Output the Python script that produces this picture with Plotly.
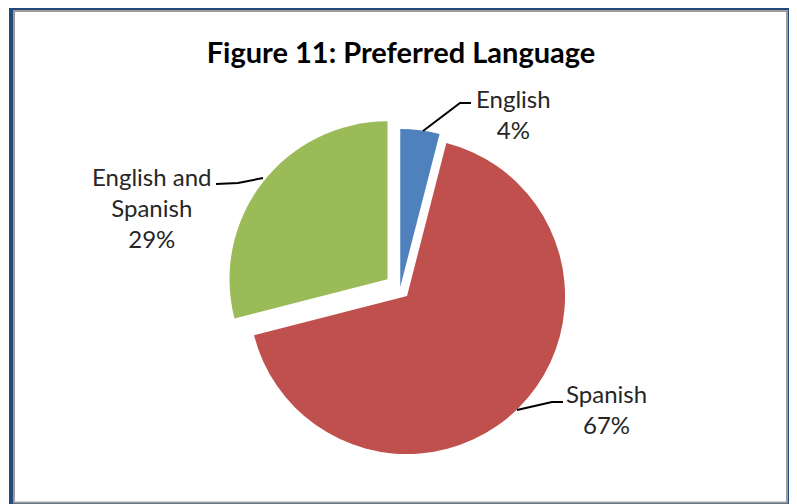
import plotly.graph_objects as go

# ---- data ----
categories = ["English", "Spanish", "English and Spanish"]
shares = [4, 67, 29]
label_lines = [["English", "4%"], ["Spanish", "67%"], ["English and", "Spanish", "29%"]]
colors = ["#4F81BD", "#C0504D", "#9BBB59"]
pulls = [0.013, 0.063, 0.10]
title_text = "Figure 11: Preferred Language"

W, H = 797, 504
OX, OY = 8, 8  # page body margin offset
FONT = "Lato"


def px(x):
    return (x - OX) / W


def py(y):
    return 1 - (y - OY) / H


# pie geometry: center (400, 289), radius ~158 px (page coordinates)
r = 158
maxpull = max(pulls)
half = r * (1 + maxpull)
cx, cy = 400, 289

fig = go.Figure(go.Pie(
    labels=categories,
    values=shares,
    sort=False,
    direction="clockwise",
    rotation=0,
    pull=pulls,
    marker=dict(colors=colors, line=dict(width=0)),
    textinfo="none",
    hoverinfo="label+percent",
    showlegend=False,
    domain=dict(x=[px(cx - half - 60), px(cx + half + 60)],
                y=[py(cy + half), py(cy - half)]),
))

shapes = []
# chart border: dark blue frame, thin gray inner line
shapes.append(dict(type="rect", xref="paper", yref="paper", layer="below",
                   x0=px(9), x1=px(793), y0=py(520), y1=py(7),
                   fillcolor="#244A7C", line=dict(width=0)))
shapes.append(dict(type="rect", xref="paper", yref="paper", layer="below",
                   x0=px(13), x1=px(788), y0=py(503.5), y1=py(10),
                   fillcolor="#9C9C9C", line=dict(width=0)))
shapes.append(dict(type="rect", xref="paper", yref="paper", layer="below",
                   x0=px(15), x1=px(786), y0=py(501.5), y1=py(12),
                   fillcolor="#FFFFFF", line=dict(width=0)))

# leader lines
leaders = [
    [(423, 131), (460, 103), (471, 103)],
    [(517, 410), (552, 402), (563, 402)],
    [(263, 178), (238, 183), (216, 184)],
]
for pts in leaders:
    path = "M " + " L ".join(f"{px(x)},{py(y)}" for x, y in pts)
    shapes.append(dict(type="path", xref="paper", yref="paper", path=path,
                       line=dict(color="#000000", width=2)))

# label anchor positions (centre of text block)
label_pos = [(513, 114), (606, 409), (152, 208)]
annotations = []
for lines, (x, y) in zip(label_lines, label_pos):
    annotations.append(dict(
        text="<br>".join(lines), x=px(x), y=py(y), xref="paper", yref="paper",
        xanchor="center", yanchor="middle", showarrow=False, align="center",
        font=dict(family=FONT, size=24, color="#262626")))

fig.update_layout(
    width=W, height=H,
    margin=dict(l=0, r=0, t=0, b=0),
    paper_bgcolor="white",
    title=dict(text="<b>" + title_text + "</b>", x=px(401), y=py(53),
               xref="paper", yref="paper", xanchor="center", yanchor="middle",
               font=dict(family=FONT, size=29, color="#000000")),
    shapes=shapes,
    annotations=annotations,
)

fig.write_html("out.html")
